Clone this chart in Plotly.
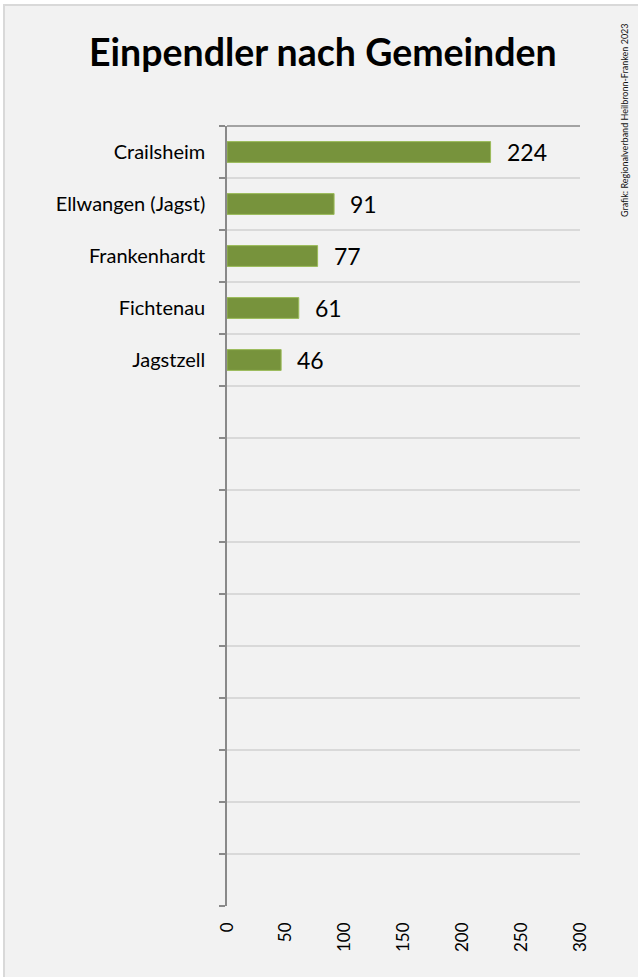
import plotly.graph_objects as go

categories = ["Crailsheim", "Ellwangen (Jagst)", "Frankenhardt", "Fichtenau", "Jagstzell"]
values = [224, 91, 77, 61, 46]
n_slots = 15
x_ticks = [0, 50, 100, 150, 200, 250, 300]
title = "Einpendler nach Gemeinden"
source = "Grafik: Regionalverband Heilbronn-Franken 2023"

W, H = 638, 977
L, R, T, B = 227, 58, 126, 71
pw, ph = W - L - R, H - T - B

def px_x(p):
    return (p - L) / pw

def px_y(p):
    return (H - B - p) / ph

FONT = "Lato"
pos = list(range(len(categories)))

fig = go.Figure()
fig.add_trace(go.Bar(
    x=values, y=pos, orientation="h", width=0.4,
    marker=dict(color="#77933C", line=dict(color="#9bbb59", width=1)),
    hoverinfo="skip",
))
for v, p in zip(values, pos):
    fig.add_annotation(x=v, y=p, xref="x", yref="y", text=str(v), showarrow=False,
                       xanchor="left", xshift=14, font=dict(family=FONT, size=23, color="#000"))

fig.add_shape(type="rect", xref="paper", yref="paper", layer="below",
              x0=px_x(4), x1=px_x(645), y0=px_y(985), y1=px_y(5),
              fillcolor="#f2f2f2", line=dict(color="#d9d9d9", width=2))
fig.add_shape(type="line", xref="paper", yref="paper", x0=0, x1=1, y0=1, y1=1,
              line=dict(color="#898989", width=1.5))

fig.add_annotation(text="<b>" + title + "</b>", xref="paper", yref="paper",
                   x=px_x(323), y=px_y(52), showarrow=False, xanchor="center", yanchor="middle",
                   font=dict(family=FONT, size=37.5, color="#000"))
fig.add_annotation(text=source, xref="paper", yref="paper", x=px_x(624), y=px_y(120),
                   showarrow=False, textangle=-90, xanchor="center", yanchor="middle",
                   font=dict(family=FONT, size=9, color="#111"))

fig.update_layout(
    width=W, height=H, margin=dict(l=L, r=R, t=T, b=B, pad=0),
    paper_bgcolor="#ffffff", plot_bgcolor="#ffffff", showlegend=False,
    font=dict(family=FONT, color="#000"),
    xaxis=dict(range=[0, 300], tickvals=x_ticks, tickangle=-90, showgrid=False,
               zeroline=False, showline=False, ticks="", ticklabelstandoff=12,
               tickfont=dict(family=FONT, size=17, color="#000"), fixedrange=True),
    yaxis=dict(range=[n_slots - 0.5, -0.5], tickvals=pos, ticktext=categories,
               showgrid=False, zeroline=False, showline=True, linecolor="#898989", linewidth=1.5,
               ticks="", ticklabelstandoff=16,
               tickfont=dict(family=FONT, size=20, color="#000"),
               minor=dict(tickvals=[i + 0.5 for i in range(-1, n_slots)], showgrid=True,
                          gridcolor="#d9d9d9", gridwidth=1.5, ticks="outside", ticklen=6,
                          tickcolor="#898989", tickwidth=1.5),
               fixedrange=True),
)

fig.write_html("out.html", config={"displayModeBar": False},
               post_script="document.body.style.margin='0';document.body.style.overflow='hidden';")
